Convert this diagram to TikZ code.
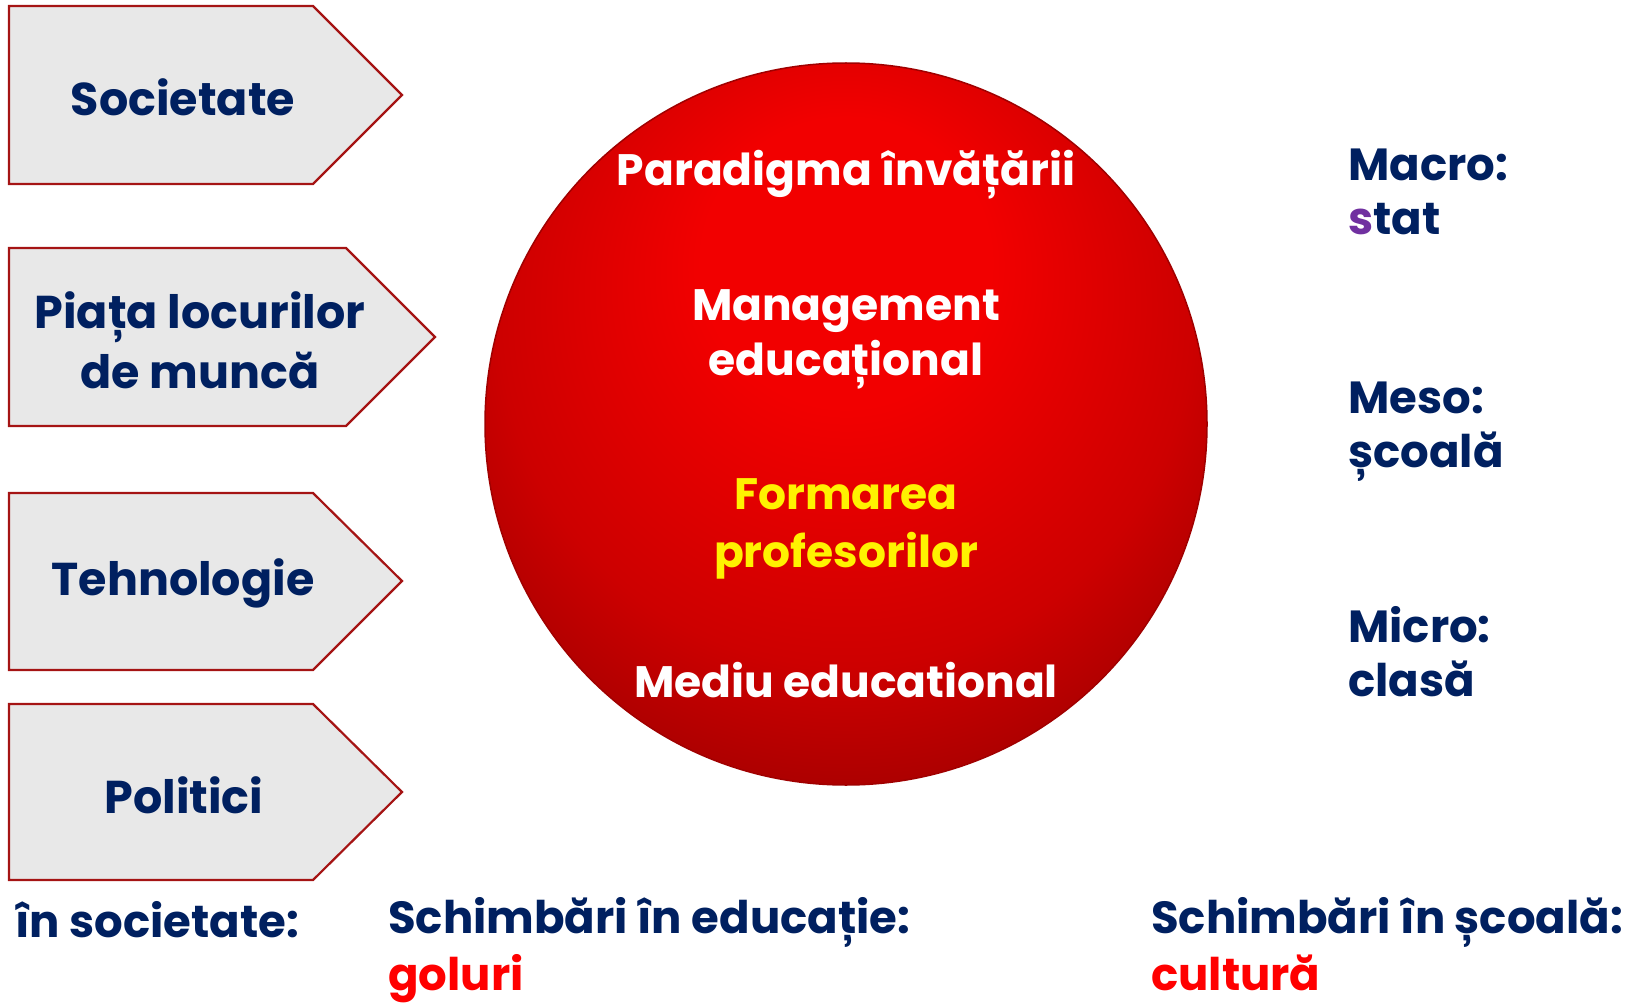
\documentclass[tikz,border=0pt]{standalone}
\usepackage{fontspec}
\setmainfont{Poppins}
\definecolor{navy}{RGB}{0,32,96}
\definecolor{tagred}{RGB}{165,20,20}
\definecolor{taggray}{RGB}{232,232,232}
\definecolor{purp}{RGB}{112,48,160}
\definecolor{ballA}{RGB}{242,0,0}
\definecolor{ballB}{RGB}{205,0,0}
\definecolor{ballC}{RGB}{160,0,0}
\definecolor{ballRim}{RGB}{225,130,130}
\pgfdeclareradialshading{ballshade}{\pgfpoint{0bp}{14bp}}{%
  color(0bp)=(ballA); color(10bp)=(ballA); color(24bp)=(ballB);
  color(33bp)=(ballC); color(35.5bp)=(ballC); color(39bp)=(ballRim); color(50bp)=(ballRim)}
\tikzset{
  tag/.style={draw=tagred, line width=2.2pt, fill=taggray, line join=miter},
  tagtext/.style={text=navy, font=\bfseries\fontsize{46}{60}\selectfont, align=center},
  balltext/.style={text=white, font=\bfseries\fontsize{44}{54}\selectfont, anchor=base},
  sidetext/.style={text=navy, font=\bfseries\fontsize{45}{54}\selectfont, anchor=base west, inner sep=0pt},
  foottext/.style={text=navy, font=\bfseries\fontsize{45}{54}\selectfont, anchor=base west, inner sep=0pt}
}

\begin{document}
\begin{tikzpicture}[x=1pt,y=-1pt]
\useasboundingbox (0,0) rectangle (1630,1003);

\draw[tag] (9,6) -- (313,6) -- (402,95) -- (313,184) -- (9,184) -- cycle;
\draw[tag] (9,248) -- (346,248) -- (435,337) -- (346,426) -- (9,426) -- cycle;
\draw[tag] (9,493) -- (313,493) -- (402,581) -- (313,670) -- (9,670) -- cycle;
\draw[tag] (9,704) -- (313,704) -- (402,792) -- (313,880) -- (9,880) -- cycle;

\node[tagtext] (societate) at (183,97) {Societate};
\node[tagtext] (piata) at (200,340) {Piața locurilor\\de muncă};
\node[tagtext] (tehnologie) at (183,583) {Tehnologie};
\node[tagtext] (politici) at (184,795) {Politici};

\shade[shading=ballshade, draw=ballC, line width=1.5pt] (846,424) circle[radius=361];

\node[balltext] (paradigma) at (846,186) {Paradigma învățării};
\node[balltext] (mgmt) at (846,320) {Management};
\node[balltext] (mgmt2) at (846,375) {educațional};
\node[balltext, text=yellow] (formarea) at (846,509) {Formarea};
\node[balltext, text=yellow] (formarea2) at (846,567) {profesorilor};
\node[balltext] (mediu) at (846,697) {Mediu educational};

\node[sidetext] (macro) at (1348,181) {Macro:};
\node[sidetext] (stat) at (1348,234) {\textcolor{purp}{s}tat};
\node[sidetext] (meso) at (1348,413) {Meso:};
\node[sidetext] (scoala) at (1348,467) {școală};
\node[sidetext] (micro) at (1348,642) {Micro:};
\node[sidetext] (clasa) at (1348,696) {clasă};

\node[foottext] (soc) at (15,937) {în societate:};
\node[foottext] (educ) at (388,933) {Schimbări în educație:};
\node[foottext, text=red] (goluri) at (388,990) {goluri};
\node[foottext] (scoli) at (1151,933) {Schimbări în școală:};
\node[foottext, text=red] (cultura) at (1151,990) {cultură};
\end{tikzpicture}
\end{document}
